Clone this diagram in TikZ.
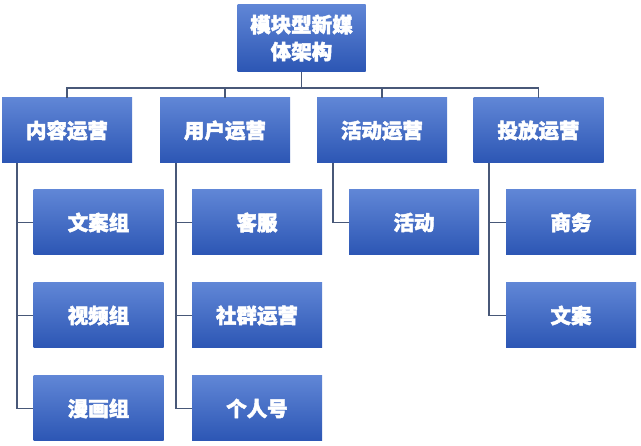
\documentclass[tikz,border=0pt]{standalone}
\usepackage{fontspec}
\newfontfamily\cjk[FakeBold=2.2]{Noto Sans CJK SC}
\definecolor{boxtop}{RGB}{96,134,214}
\definecolor{boxbot}{RGB}{44,86,180}
\definecolor{linec}{RGB}{72,88,120}
\begin{document}
\begin{tikzpicture}[x=1pt,y=-1pt,
  orgbox/.style={rectangle, minimum width=130pt, minimum height=65pt, inner sep=0pt,
    top color=boxtop, bottom color=boxbot, draw=none,
    text=white, font=\cjk\bfseries\fontsize{20.5}{27}\selectfont, align=center},
  conn/.style={draw=linec, line width=1.8pt}]
\useasboundingbox (0,0) rectangle (641,446);
% top
\node[orgbox, minimum width=128pt, minimum height=67pt] (root) at (301.5,38) {模块型新媒\\体架构};
% level 1
\node[orgbox] (a) at (67,130.5) {内容运营};
\node[orgbox] (b) at (225,130.5) {用户运营};
\node[orgbox] (c) at (382,130.5) {活动运营};
\node[orgbox] (d) at (538.5,130.5) {投放运营};
% level 2
\node[orgbox] (a1) at (98.5,222.5) {文案组};
\node[orgbox] (a2) at (98.5,315.5) {视频组};
\node[orgbox] (a3) at (98.5,408.5) {漫画组};
\node[orgbox] (b1) at (257,222.5) {客服};
\node[orgbox] (b2) at (257,315.5) {社群运营};
\node[orgbox] (b3) at (257,408.5) {个人号};
\node[orgbox] (c1) at (414,222.5) {活动};
\node[orgbox] (d1) at (571,222.5) {商务};
\node[orgbox] (d2) at (571,315.5) {文案};
% bus
\coordinate (bus) at (301.5,88);
\draw[conn] (root.south) -- (bus);
\draw[conn] (a.north) |- (bus) -| (d.north);
\draw[conn] (b.north) -- (b.north |- bus);
\draw[conn] (c.north) -- (c.north |- bus);
% children
\coordinate (ax) at (17,163);
\coordinate (bx) at (176,163);
\coordinate (cx) at (333,163);
\coordinate (dx) at (489,163);
\draw[conn] (ax) |- (a3.west);
\draw[conn] (ax |- a1.west) -- (a1.west);
\draw[conn] (ax |- a2.west) -- (a2.west);
\draw[conn] (bx) |- (b3.west);
\draw[conn] (bx |- b1.west) -- (b1.west);
\draw[conn] (bx |- b2.west) -- (b2.west);
\draw[conn] (cx) |- (c1.west);
\draw[conn] (dx) |- (d2.west);
\draw[conn] (dx |- d1.west) -- (d1.west);
\end{tikzpicture}
\end{document}
